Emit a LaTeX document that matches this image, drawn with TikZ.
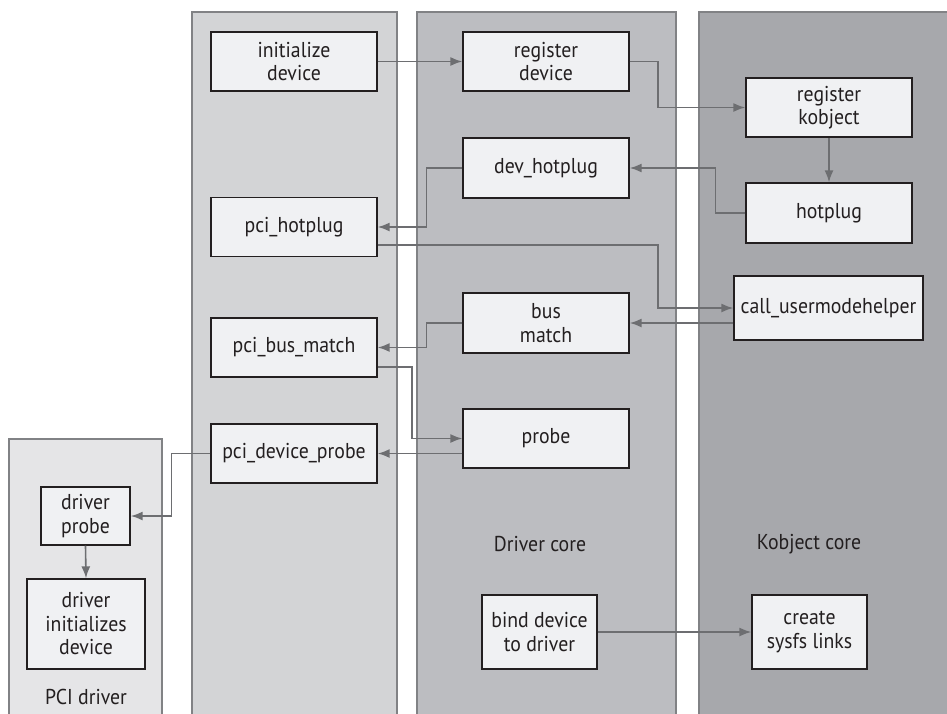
\documentclass[tikz,border=0pt]{standalone}
\usepackage{fontspec}
\setmainfont{PT Sans}[FakeStretch=0.92]
\usetikzlibrary{arrows.meta}
\definecolor{colA}{HTML}{E5E5E7}
\definecolor{colB}{HTML}{D3D4D6}
\definecolor{colC}{HTML}{BCBDC1}
\definecolor{colD}{HTML}{A7A8AC}
\definecolor{colBox}{HTML}{F0F1F3}
\definecolor{colLine}{HTML}{6D6E71}
\definecolor{colEdge}{HTML}{818285}
\definecolor{colInk}{HTML}{231F20}
\tikzset{
  lane/.style={draw=colEdge, line width=1.2pt},
  fbox/.style={draw=colInk, fill=colBox, line width=1.4pt, align=center, inner sep=0pt,
    font=\fontsize{21.5}{23.5}\selectfont, text=colInk},
  lbl/.style={font=\fontsize{21.5}{23.5}\selectfont, text=colInk},
  arr/.style={draw=colLine, line width=1.6pt, -{Latex[length=12pt,width=9pt]}}
}
\begin{document}
\begin{tikzpicture}[x=1pt,y=-1pt]
\useasboundingbox (0,0) rectangle (947,713);
% lanes
\fill[white] (0,0) rectangle (947,713);
\draw[lane, fill=colA] (9,720) -- (9,439) -- (162,439) -- (162,720);
\draw[lane, fill=colB] (192,720) -- (192,12) -- (397,12) -- (397,720);
\draw[lane, fill=colC] (417,720) -- (417,12) -- (676,12) -- (676,720);
\draw[lane, fill=colD] (699,720) -- (699,12) -- (960,12) -- (960,720);
% lane labels
\node[lbl] (lpci) at (86,697) {PCI driver};
\node[lbl] (ldrv) at (540,544) {Driver core};
\node[lbl] (lkob) at (809,544) {Kobject core};
% boxes
\node[fbox, minimum width=166pt, minimum height=59pt] (init) at (294,61.5) {initialize\\device};
\node[fbox, minimum width=166pt, minimum height=59pt] (regdev) at (546,61.5) {register\\device};
\node[fbox, minimum width=166pt, minimum height=59pt] (regkobj) at (829,107.5) {register\\kobject};
\node[fbox, minimum width=166pt, minimum height=60pt] (hotplug) at (829,213) {hotplug};
\node[fbox, minimum width=166pt, minimum height=60pt] (devhot) at (546,168) {dev\_hotplug};
\node[fbox, minimum width=166pt, minimum height=59pt] (pcihot) at (294,227) {pci\_hotplug};
\node[fbox, minimum width=189pt, minimum height=64pt] (callum) at (828.5,308) {call\_usermodehelper};
\node[fbox, minimum width=166pt, minimum height=60pt] (busm) at (546,323) {bus\\match};
\node[fbox, minimum width=166pt, minimum height=59pt] (pcibus) at (294,347.5) {pci\_bus\_match};
\node[fbox, minimum width=166pt, minimum height=59pt] (probe) at (546,438.5) {probe};
\node[fbox, minimum width=166pt, minimum height=59pt] (pciprobe) at (294,453.5) {pci\_device\_probe};
\node[fbox, minimum width=89pt, minimum height=58pt] (drvprobe) at (85.5,516) {driver\\probe};
\node[fbox, minimum width=118pt, minimum height=90pt] (drvinit) at (86,624) {driver\\initializes\\device};
\node[fbox, minimum width=115pt, minimum height=74pt] (bind) at (539.5,632) {bind device\\to driver};
\node[fbox, minimum width=115pt, minimum height=74pt] (sysfs) at (809.5,632) {create\\sysfs links};
% connectors
\draw[arr] (init.east) -- (regdev.west);
\draw[arr] (regdev.east) -- ++(28,0) |- (regkobj.west);
\draw[arr] (regkobj.south) -- (hotplug.north);
\draw[arr] (hotplug.west) -- ++(-30,0) |- (devhot.east);
\draw[arr] (devhot.west) -- ++(-36,0) |- (pcihot.east);
\draw[arr] ([yshift=-18pt]pcihot.east) -- ++(280,0) |- (callum.west);
\draw[arr] ([yshift=-15pt]callum.west) -- ([yshift=-15pt]callum.west -| busm.east);
\draw[arr] (busm.west) -- ++(-36,0) |- (pcibus.east);
\draw[arr] ([yshift=-19.5pt]pcibus.east) -- ++(34,0) |- (probe.west);
\draw[arr] ([yshift=-15pt]probe.west) -- ([yshift=-15pt]probe.west -| pciprobe.east);
\draw[arr] (pciprobe.west) -- ++(-39,0) |- (drvprobe.east);
\draw[arr] (drvprobe.south) -- (drvinit.north);
\draw[arr] (bind.east) -- (sysfs.west);
\end{tikzpicture}
\end{document}
